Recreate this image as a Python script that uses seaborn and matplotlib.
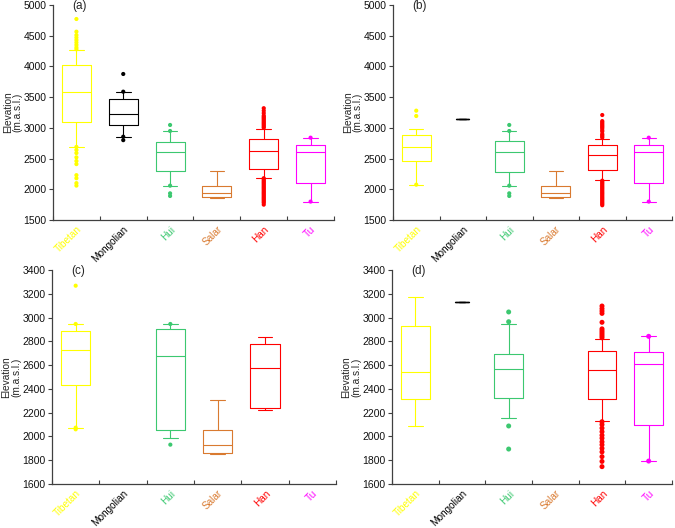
import numpy as np
import pandas as pd
import seaborn as sns
import matplotlib.pyplot as plt
from matplotlib.ticker import FixedLocator

# ---------------- data ----------------
categories = ["Tibetan", "Mongolian", "Hui", "Salar", "Han", "Tu"]
colors = ["#FFFF00", "#000000", "#3CC870", "#D97A30", "#FF0000", "#FF00FF"]

# five-number summaries: whisker low, Q1, median, Q3, whisker high (None = no data)
a_low = [2694, 2856, 2059, 1858, 2189, 1800]
a_q1 = [3090, 3041, 2298, 1869, 2335, 2108]
a_med = [3578, 3225, 2613, 1934, 2618, 2605]
a_q3 = [4023, 3475, 2775, 2059, 2813, 2716]
a_high = [4267, 3589, 2949, 2303, 2987, 2840]

b_low = [2075, 3139, 2059, 1858, 2151, 1800]
b_q1 = [2465, 3139, 2287, 1869, 2308, 2100]
b_med = [2688, 3139, 2602, 1934, 2557, 2607]
b_q3 = [2884, 3139, 2786, 2059, 2725, 2716]
b_high = [2981, 3139, 2949, 2303, 2825, 2840]

c_low = [2074, None, 1984, 1849, 2222, None]
c_q1 = [2435, None, 2054, 1863, 2236, None]
c_med = [2724, None, 2674, 1925, 2578, None]
c_q3 = [2887, None, 2906, 2054, 2778, None]
c_high = [2946, None, 2946, 2304, 2836, None]

d_low = [2090, 3128, 2152, None, 2133, 1793]
d_q1 = [2315, 3128, 2320, None, 2312, 2099]
d_med = [2545, 3128, 2567, None, 2556, 2609]
d_q3 = [2929, 3128, 2691, None, 2716, 2713]
d_high = [3176, 3128, 2943, None, 2817, 2842]

# outliers
a_out = {
    "Tibetan": [4772, 4566, 4510, 4470, 4430, 4390, 4350, 4310, 4280,
                2690, 2640, 2590, 2520, 2460, 2410, 2230, 2180, 2100, 2060],
    "Mongolian": [3877, 3589, 2856, 2800],
    "Hui": [3047, 2949, 2059, 1934, 1891],
    "Han": [3320, 3280, 3240, 3200, 3180, 3160, 3140, 3120, 3100, 3080, 3060, 3040, 3020, 3000,
            2180, 2160, 2140, 2120, 2100, 2080, 2060, 2040, 2020, 2000, 1980, 1960, 1940,
            1920, 1900, 1880, 1860, 1840, 1820, 1800, 1780, 1750],
    "Tu": [2840, 1800],
}
b_out = {
    "Tibetan": [3280, 3193, 2075],
    "Hui": [3047, 2949, 2059, 1934, 1891],
    "Han": [3209, 3110, 3090, 3070, 3050, 3030, 3010, 2990, 2960, 2940, 2900, 2880, 2860, 2840,
            2140, 2120, 2100, 2080, 2060, 2040, 2020, 2000, 1980, 1960, 1940, 1920, 1900,
            1880, 1860, 1840, 1820, 1800, 1780, 1760, 1740],
    "Tu": [2840, 1800],
}
c_out = {
    "Tibetan": [3268, 2946, 2074, 2060],
    "Hui": [2946, 1931],
}
d_out = {
    "Hui": [3047, 2965, 2088, 1894],
    "Han": [3097, 3075, 3055, 3035, 2960, 2905, 2890, 2875, 2860, 2845, 2830,
            2124, 2100, 2070, 2040, 2010, 1985, 1955, 1930, 1900, 1870, 1830, 1790, 1746],
    "Tu": [2842, 1793],
}

panel_letters = ["(a)", "(b)", "(c)", "(d)"]
yticks_top = [1500, 2000, 2500, 3000, 3500, 4000, 4500, 5000]
yticks_bottom = [1600, 1800, 2000, 2200, 2400, 2600, 2800, 3000, 3200, 3400]

# ---------------- style ----------------
sns.set_theme(style="white")
plt.rcParams["font.family"] = ["Liberation Sans", "DejaVu Sans"]
plt.rcParams["axes.edgecolor"] = "#404040"
plt.rcParams["axes.linewidth"] = 0.9

palette = dict(zip(categories, colors))

fig = plt.figure(figsize=(6.75, 5.28), dpi=100)
W, H = 675.0, 528.0
boxes_px = [(53, 5, 334, 220), (393, 5, 672, 220), (52, 270, 336, 484), (392, 270, 672, 484)]
axes = []
for (l, t, r, b) in boxes_px:
    axes.append(fig.add_axes([l / W, 1 - b / H, (r - l) / W, (b - t) / H]))

panels = [
    (a_low, a_q1, a_med, a_q3, a_high, a_out, yticks_top, 3.0),
    (b_low, b_q1, b_med, b_q3, b_high, b_out, yticks_top, 3.0),
    (c_low, c_q1, c_med, c_q3, c_high, c_out, yticks_bottom, 3.0),
    (d_low, d_q1, d_med, d_q3, d_high, d_out, yticks_bottom, 3.6),
]

for ax, (lo, q1, md, q3, hi, outl, yt, msize), letter in zip(axes, panels, panel_letters):
    multi_rows, single_rows = [], []
    for i, cat in enumerate(categories):
        if lo[i] is None:
            continue
        vals = [lo[i], q1[i], md[i], q3[i], hi[i]]
        if lo[i] == hi[i]:
            single_rows.append({"group": cat, "value": lo[i]})
        else:
            for v in vals:
                multi_rows.append({"group": cat, "value": v})
    dfm = pd.DataFrame(multi_rows)
    sns.boxplot(data=dfm, x="group", y="value", hue="group", order=categories,
                hue_order=categories, palette=palette, fill=False, whis=(0, 100),
                showfliers=False, width=0.62, linewidth=0.8, dodge=False,
                legend=False, ax=ax)
    if single_rows:
        dfs = pd.DataFrame(single_rows)
        sns.boxplot(data=dfs, x="group", y="value", hue="group", order=categories,
                    hue_order=categories, palette=palette, fill=False, whis=(0, 100),
                    showfliers=False, width=0.28, linewidth=0.9, dodge=False,
                    legend=False, ax=ax)
    orows = [{"group": k, "value": v} for k, vs in outl.items() for v in vs]
    dfo = pd.DataFrame(orows)
    sns.stripplot(data=dfo, x="group", y="value", hue="group", order=categories,
                  hue_order=categories, palette=palette, jitter=False, size=msize,
                  linewidth=0, dodge=False, legend=False, ax=ax, zorder=3)

    ax.set_xlim(-0.5, 5.5)
    ax.set_ylim(yt[0], yt[-1])
    ax.set_yticks(yt)
    ax.set_yticklabels([str(v) for v in yt], fontsize=7.5)
    ax.set_xticks(range(len(categories)))
    ax.set_xticklabels(categories, rotation=45, ha="right", rotation_mode="anchor",
                       fontsize=7.2)
    for lab, col in zip(ax.get_xticklabels(), colors):
        lab.set_color(col)
    ax.xaxis.set_minor_locator(FixedLocator(np.arange(-0.5, 6.0, 1.0)))
    ax.tick_params(axis="x", which="major", length=0, pad=3)
    ax.tick_params(axis="x", which="minor", direction="in", length=3, width=0.8,
                   color="#404040", bottom=True)
    ax.tick_params(axis="y", which="major", direction="out", length=3, width=0.8,
                   color="#404040", left=True, pad=1.5, labelcolor="#111111")
    for s in ["top", "right"]:
        ax.spines[s].set_visible(False)
    ax.set_xlabel("")
    ax.set_ylabel("Elevation\n(m.a.s.l.)", fontsize=7.3, labelpad=1, linespacing=0.95)
    ax.text(0.068, 0.995, letter, transform=ax.transAxes, ha="left", va="center",
            fontsize=8.5)

fig.savefig("out.png", dpi=100)
